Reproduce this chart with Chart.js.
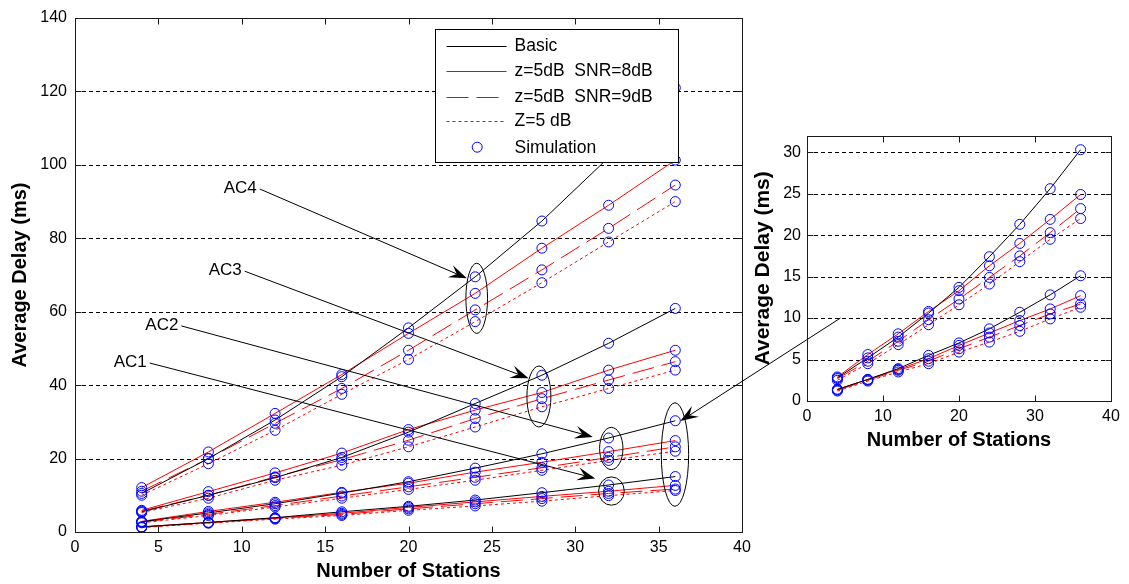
<!DOCTYPE html>
<html><head><meta charset="utf-8">
<script src="https://cdn.jsdelivr.net/npm/chart.js@4.4.1/dist/chart.umd.min.js"></script>
<style>
html,body{margin:0;padding:0;background:#fff;width:1129px;height:584px;overflow:hidden;}
#main{position:absolute;left:0;top:0;}
#inset{position:absolute;left:740px;top:120px;}
</style></head><body>
<canvas id="main" width="1129" height="584"></canvas>
<canvas id="inset" width="389" height="340"></canvas>
<script>
const FONT = '"Liberation Sans", Arial, Helvetica, sans-serif';

// ---- data ----
const stations = [4, 8, 12, 16, 20, 24, 28, 32, 36];

const ac1Basic = [1.4, 2.6, 3.9, 5.5, 7.0, 8.7, 10.7, 12.8, 15.1];
const ac1Snr8  = [1.4, 2.6, 3.8, 5.1, 6.7, 8.2, 9.7, 11.1, 12.7];
const ac1Snr9  = [1.3, 2.5, 3.7, 4.8, 6.3, 7.7, 9.1, 10.5, 11.7];
const ac1Z5    = [1.2, 2.4, 3.5, 4.5, 5.9, 7.1, 8.4, 9.9, 11.3];

const ac2Basic = [2.8, 5.2, 7.7, 10.6, 13.7, 17.4, 21.3, 25.6, 30.3];
const ac2Snr8  = [2.9, 5.6, 8.1, 10.8, 13.3, 16.3, 19.0, 21.9, 24.9];
const ac2Snr9  = [2.7, 4.8, 7.2, 9.8, 12.3, 14.9, 17.5, 20.3, 23.2];
const ac2Z5    = [2.5, 4.5, 6.8, 9.2, 11.6, 14.1, 16.8, 19.5, 22.0];

const ac3Basic = [5.5, 10.0, 14.8, 20.3, 27.2, 35.0, 42.7, 51.4, 60.9];
const ac3Snr8  = [5.9, 11.0, 16.1, 21.5, 27.9, 33.2, 38.0, 44.1, 49.5];
const ac3Snr9  = [5.7, 10.0, 15.0, 19.7, 25.0, 30.9, 36.3, 41.4, 46.4];
const ac3Z5    = [5.3, 9.2, 14.1, 18.2, 23.2, 28.6, 34.1, 39.1, 44.1];

const ac4Basic = [10.5, 20.0, 30.5, 42.3, 55.6, 69.5, 84.7, 102.0, 121.0];
const ac4Snr8  = [12.1, 21.8, 32.3, 42.9, 54.1, 65.0, 77.3, 89.0, 101.3];
const ac4Snr9  = [11.1, 20.0, 29.6, 39.1, 49.5, 60.5, 71.4, 82.7, 94.5];
const ac4Z5    = [10.0, 18.6, 27.7, 37.5, 47.0, 57.3, 67.9, 79.0, 90.0];

const seriesNames = ['Basic', 'z=5dB  SNR=8dB', 'z=5dB  SNR=9dB', 'Z=5 dB', 'Simulation'];

const mainXTicks = [0, 5, 10, 15, 20, 25, 30, 35, 40];
const mainYTicks = [0, 20, 40, 60, 80, 100, 120, 140];
const insetXTicks = [0, 10, 20, 30, 40];
const insetYTicks = [0, 5, 10, 15, 20, 25, 30];

// annotations (data coordinates of the main chart)
const acLabels = ['AC1', 'AC2', 'AC3', 'AC4'];
const labelAnchors = [[4.3, 46.3], [6.2, 56.4], [10.0, 71.3], [10.9, 93.7]];
const arrowTips = [[31.2, 14.6], [31.05, 25.9], [27.2, 41.9], [23.5, 69.1]];
const ellipses = [
  {x: 24.09, yLow: 54.1, yHigh: 73.2, halfW: 0.65},
  {x: 27.82, yLow: 28.6, yHigh: 45.2, halfW: 0.72},
  {x: 32.16, yLow: 17.0, yHigh: 28.5, halfW: 0.70},
  {x: 32.17, yLow: 7.3, yHigh: 15.0, halfW: 0.77},
  {x: 35.98, yLow: 7.0, yHigh: 35.2, halfW: 0.82}
];
const insetArrowFrom = [4.4, 10];   // inset data coords
const insetArrowTo = [36.3, 30.2];  // main data coords

// ---- styles ----
const lineStyles = [
  {color: '#000000', dash: []},
  {color: '#ff0000', dash: []},
  {color: '#ff0000', dash: [22, 8]},
  {color: '#ff0000', dash: [3, 3]}
];
const SIM_COLOR = '#0000ff';

function buildDatasets(groups) {
  const ds = [];
  groups.forEach(g => {
    g.forEach((arr, i) => {
      ds.push({
        label: seriesNames[i],
        data: stations.map((x, k) => ({x: x, y: arr[k]})),
        borderColor: lineStyles[i].color,
        borderDash: lineStyles[i].dash,
        borderWidth: 1,
        pointRadius: 0,
        fill: false,
        tension: 0,
        order: 1
      });
    });
    g.forEach(arr => {
      ds.push({
        label: seriesNames[4],
        data: stations.map((x, k) => ({x: x, y: arr[k]})),
        showLine: false,
        pointStyle: 'circle',
        pointRadius: 5,
        pointBorderWidth: 1,
        pointBorderColor: SIM_COLOR,
        pointBackgroundColor: 'rgba(0,0,0,0)',
        order: 0
      });
    });
  });
  return ds;
}

const matlabAxes = {
  id: 'matlabAxes',
  beforeDatasetsDraw(chart, args, opts) {
    const {ctx, chartArea: a, scales: {x, y}} = chart;
    ctx.save();
    ctx.strokeStyle = '#000'; ctx.lineWidth = 1; ctx.setLineDash([4, 3]);
    opts.yTicks.forEach(v => {
      if (v <= y.min || v >= y.max) return;
      const py = Math.round(y.getPixelForValue(v)) + 0.5;
      ctx.beginPath(); ctx.moveTo(a.left, py); ctx.lineTo(a.right, py); ctx.stroke();
    });
    ctx.restore();
  },
  afterDatasetsDraw(chart, args, opts) {
    const {ctx, chartArea: a, scales: {x, y}} = chart;
    const L = Math.round(a.left) + 0.5, R = Math.round(a.right) + 0.5;
    const T = Math.round(a.top) + 0.5, B = Math.round(a.bottom) + 0.5;
    ctx.save();
    ctx.strokeStyle = '#1a1a1a'; ctx.lineWidth = 1; ctx.setLineDash([]);
    ctx.strokeRect(L, T, R - L, B - T);
    const tl = 6;
    ctx.beginPath();
    opts.xTicks.forEach(v => {
      const px = Math.round(x.getPixelForValue(v)) + 0.5;
      ctx.moveTo(px, B); ctx.lineTo(px, B - tl);
      ctx.moveTo(px, T); ctx.lineTo(px, T + tl);
    });
    opts.yTicks.forEach(v => {
      const py = Math.round(y.getPixelForValue(v)) + 0.5;
      ctx.moveTo(L, py); ctx.lineTo(L + tl, py);
      ctx.moveTo(R, py); ctx.lineTo(R - tl, py);
    });
    ctx.stroke();
    ctx.restore();
  }
};

function drawArrow(ctx, x1, y1, x2, y2) {
  const dx = x2 - x1, dy = y2 - y1, len = Math.hypot(dx, dy);
  const ux = dx / len, uy = dy / len, nx = -uy, ny = ux;
  const Lh = 18, W = 6.5, N = 11;
  ctx.beginPath(); ctx.moveTo(x1, y1); ctx.lineTo(x2 - ux * N, y2 - uy * N); ctx.stroke();
  ctx.beginPath();
  ctx.moveTo(x2, y2);
  ctx.lineTo(x2 - ux * Lh + nx * W, y2 - uy * Lh + ny * W);
  ctx.lineTo(x2 - ux * N, y2 - uy * N);
  ctx.lineTo(x2 - ux * Lh - nx * W, y2 - uy * Lh - ny * W);
  ctx.closePath(); ctx.fill();
}

function scaleOpts(min, max, ticks, sizeKey, size, title, titlePad, tickPad, titleSize) {
  return {
    type: 'linear', min: min, max: max,
    afterBuildTicks: s => { s.ticks = ticks.map(v => ({value: v})); },
    afterFit: s => { s[sizeKey] = size; },
    grid: {display: false, drawTicks: false},
    border: {display: false},
    ticks: {font: {family: FONT, size: 16}, color: '#000', padding: tickPad, maxRotation: 0, autoSkip: false},
    title: {display: true, text: title, color: '#000', font: {family: FONT, size: titleSize, weight: 'bold'}, padding: titlePad}
  };
}

// ---- inset chart ----
const insetChart = new Chart(document.getElementById('inset'), {
  type: 'line',
  data: {datasets: buildDatasets([[ac1Basic, ac1Snr8, ac1Snr9, ac1Z5], [ac2Basic, ac2Snr8, ac2Snr9, ac2Z5]])},
  options: {
    responsive: false, animation: false, events: [],
    layout: {padding: {left: 0, right: 18, top: 15, bottom: 0}},
    scales: {
      x: scaleOpts(0, 40, insetXTicks, 'height', 59, 'Number of Stations', {top: 0, bottom: 8}, 6, 20),
      y: scaleOpts(0, 32, insetYTicks, 'width', 67, 'Average Delay (ms)', {top: 11, bottom: 0}, 6, 21)
    },
    plugins: {legend: {display: false}, tooltip: {enabled: false}, matlabAxes: {xTicks: insetXTicks, yTicks: insetYTicks}}
  },
  plugins: [matlabAxes]
});

const INSET_LEFT = 740, INSET_TOP = 120;

const annotate = {
  id: 'annotate',
  afterDraw(chart) {
    const {ctx, chartArea: a, scales: {x, y}} = chart;
    ctx.save();
    ctx.strokeStyle = '#000'; ctx.fillStyle = '#000'; ctx.lineWidth = 1; ctx.setLineDash([]);
    ellipses.forEach(e => {
      const cx = x.getPixelForValue(e.x);
      const top = y.getPixelForValue(e.yHigh), bot = y.getPixelForValue(e.yLow);
      const rx = x.getPixelForValue(e.x + e.halfW) - cx;
      ctx.beginPath(); ctx.ellipse(cx, (top + bot) / 2, rx, (bot - top) / 2, 0, 0, Math.PI * 2); ctx.stroke();
    });
    ctx.font = '17px ' + FONT; ctx.textAlign = 'right'; ctx.textBaseline = 'middle';
    acLabels.forEach((t, i) => {
      const px = x.getPixelForValue(labelAnchors[i][0]), py = y.getPixelForValue(labelAnchors[i][1]);
      ctx.fillText(t, px, py);
      drawArrow(ctx, px + 3, py + 1, x.getPixelForValue(arrowTips[i][0]), y.getPixelForValue(arrowTips[i][1]));
    });
    const fx = insetChart.scales.x.getPixelForValue(insetArrowFrom[0]) + INSET_LEFT;
    const fy = insetChart.scales.y.getPixelForValue(insetArrowFrom[1]) + INSET_TOP;
    drawArrow(ctx, fx, fy, x.getPixelForValue(insetArrowTo[0]), y.getPixelForValue(insetArrowTo[1]));

    // legend
    const lx = Math.round(a.left + 360) + 0.5, ly = Math.round(a.top + 10.6) + 0.5, w = 243, h = 133;
    ctx.fillStyle = '#fff'; ctx.fillRect(lx, ly, w, h);
    ctx.strokeStyle = '#000'; ctx.strokeRect(lx, ly, w, h);
    const rows = [16, 41, 67, 91, 117.7];
    ctx.font = '17.5px ' + FONT; ctx.textAlign = 'left'; ctx.textBaseline = 'middle';
    for (let i = 0; i < 4; i++) {
      const ry = Math.round(ly + rows[i]) + 0.5;
      ctx.strokeStyle = lineStyles[i].color; ctx.setLineDash(lineStyles[i].dash);
      ctx.beginPath(); ctx.moveTo(lx + 11, ry); ctx.lineTo(lx + 71, ry); ctx.stroke();
      ctx.setLineDash([]);
      ctx.fillStyle = '#000'; ctx.fillText(seriesNames[i], lx + 79, ly + rows[i] + 1);
    }
    ctx.strokeStyle = SIM_COLOR;
    ctx.beginPath(); ctx.arc(lx + 41.7, ly + rows[4], 5, 0, Math.PI * 2); ctx.stroke();
    ctx.fillStyle = '#000'; ctx.fillText(seriesNames[4], lx + 79, ly + rows[4] + 1);
    ctx.restore();
  }
};

// ---- main chart ----
const mainChart = new Chart(document.getElementById('main'), {
  type: 'line',
  data: {datasets: buildDatasets([
    [ac1Basic, ac1Snr8, ac1Snr9, ac1Z5],
    [ac2Basic, ac2Snr8, ac2Snr9, ac2Z5],
    [ac3Basic, ac3Snr8, ac3Snr9, ac3Z5],
    [ac4Basic, ac4Snr8, ac4Snr9, ac4Z5]
  ])},
  options: {
    responsive: false, animation: false, events: [],
    layout: {padding: {left: 0, right: 387, top: 18, bottom: 0}},
    scales: {
      x: scaleOpts(0, 40, mainXTicks, 'height', 52, 'Number of Stations', {top: 0, bottom: 1}, 6, 20),
      y: scaleOpts(0, 140, mainYTicks, 'width', 75, 'Average Delay (ms)', {top: 8, bottom: 0}, 8, 20)
    },
    plugins: {legend: {display: false}, tooltip: {enabled: false}, matlabAxes: {xTicks: mainXTicks, yTicks: mainYTicks}}
  },
  plugins: [matlabAxes, annotate]
});
</script>
</body></html>
